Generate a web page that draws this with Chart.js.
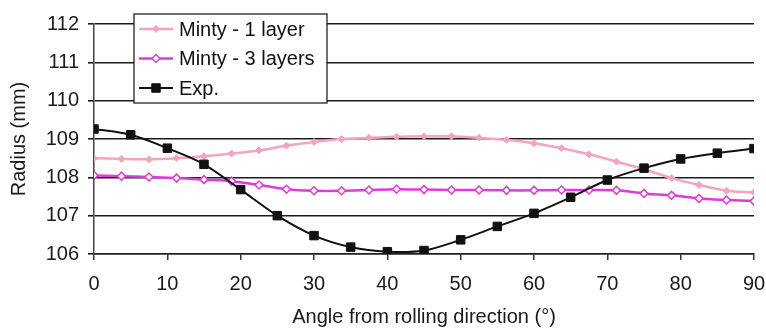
<!DOCTYPE html>
<html>
<head>
<meta charset="utf-8">
<script src="https://cdn.jsdelivr.net/npm/chart.js@4/dist/chart.umd.min.js"></script>
<style>
  html, body { margin: 0; padding: 0; background: #fff; }
  #wrap { width: 766px; height: 329px; }
</style>
</head>
<body>
<div id="wrap"><canvas id="c" width="766" height="329"></canvas></div>
<script>
// Angles (degrees from rolling direction)
const expAngles = [0, 5, 10, 15, 20, 25, 30, 35, 40, 45, 50, 55, 60, 65, 70, 75, 80, 85, 90];
const mintyAngles = [0, 3.75, 7.5, 11.25, 15, 18.75, 22.5, 26.25, 30, 33.75, 37.5, 41.25, 45,
  48.75, 52.5, 56.25, 60, 63.75, 67.5, 71.25, 75, 78.75, 82.5, 86.25, 90];

// Radius (mm)
const expRadius = [109.26, 109.11, 108.76, 108.34, 107.68, 107.0, 106.48, 106.18, 106.06, 106.09,
  106.37, 106.72, 107.06, 107.48, 107.93, 108.24, 108.48, 108.63, 108.75];
const minty1Radius = [108.50, 108.48, 108.47, 108.50, 108.55, 108.62, 108.70, 108.83, 108.92, 109.00,
  109.03, 109.06, 109.07, 109.07, 109.03, 108.98, 108.89, 108.76, 108.60, 108.41, 108.21, 107.98,
  107.80, 107.65, 107.61];
const minty3Radius = [108.05, 108.03, 108.01, 107.98, 107.94, 107.90, 107.80, 107.69, 107.65, 107.65,
  107.67, 107.69, 107.68, 107.67, 107.67, 107.66, 107.66, 107.67, 107.67, 107.66, 107.58, 107.53,
  107.45, 107.41, 107.38];

const xTicks = [0, 10, 20, 30, 40, 50, 60, 70, 80, 90];
const yTicks = [106, 107, 108, 109, 110, 111, 112];

const FONT = "'Liberation Sans', Arial, sans-serif";
const PINK = '#f4a3c2';
const MAGENTA = '#e23ad8';

const pairs = (xs, ys) => xs.map((x, i) => ({ x: x, y: ys[i] }));

// Boxed legend drawn inside the plot, upper left
const boxLegend = {
  id: 'boxLegend',
  afterDraw(chart) {
    const ctx = chart.ctx;
    const area = chart.chartArea;
    const bx = area.left + 40, by = area.top - 10, bw = 193, bh = 89;
    ctx.save();
    ctx.fillStyle = '#fff';
    ctx.fillRect(bx, by, bw, bh);
    ctx.strokeStyle = '#111';
    ctx.lineWidth = 1.2;
    ctx.strokeRect(bx, by, bw, bh);
    const order = [1, 2, 0];
    order.forEach((di, row) => {
      const ds = chart.data.datasets[di];
      const cy = by + 15 + row * 29.5;
      const x0 = bx + 5, x1 = bx + 39;
      ctx.strokeStyle = ds.borderColor;
      ctx.lineWidth = ds.borderWidth;
      ctx.beginPath();
      ctx.moveTo(x0, cy);
      ctx.lineTo(x1, cy);
      ctx.stroke();
      ctx.fillStyle = ds.pointBackgroundColor;
      ctx.strokeStyle = ds.pointBorderColor;
      ctx.lineWidth = ds.pointBorderWidth;
      ctx.beginPath();
      Chart.helpers.drawPoint(ctx, {
        pointStyle: ds.pointStyle,
        radius: ds.pointRadius,
        borderWidth: ds.pointBorderWidth,
        rotation: 0
      }, (x0 + x1) / 2, cy);
      ctx.fillStyle = '#111';
      ctx.font = '20px ' + FONT;
      ctx.textBaseline = 'middle';
      ctx.textAlign = 'left';
      ctx.fillText(ds.label, bx + 45, cy + 1);
    });
    ctx.restore();
  }
};

new Chart(document.getElementById('c'), {
  type: 'line',
  data: {
    datasets: [
      {
        label: 'Exp.',
        data: pairs(expAngles, expRadius),
        borderColor: '#111',
        borderWidth: 2,
        pointStyle: 'rect',
        pointRadius: 6,
        pointBorderWidth: 1,
        pointBackgroundColor: '#111',
        pointBorderColor: '#111',
        tension: 0.3,
        order: 0
      },
      {
        label: 'Minty - 1 layer',
        data: pairs(mintyAngles, minty1Radius),
        borderColor: PINK,
        borderWidth: 2.5,
        pointStyle: 'rectRot',
        pointRadius: 3.5,
        pointBorderWidth: 1,
        pointBackgroundColor: PINK,
        pointBorderColor: PINK,
        tension: 0.3,
        order: 2
      },
      {
        label: 'Minty - 3 layers',
        data: pairs(mintyAngles, minty3Radius),
        borderColor: MAGENTA,
        borderWidth: 2.5,
        pointStyle: 'rectRot',
        pointRadius: 4,
        pointBorderWidth: 1.5,
        pointBackgroundColor: '#fff',
        pointBorderColor: MAGENTA,
        tension: 0.3,
        order: 1
      }
    ]
  },
  options: {
    responsive: false,
    animation: false,
    events: [],
    layout: { padding: { left: 0, right: 12, top: 24, bottom: 0 } },
    plugins: {
      legend: { display: false },
      tooltip: { enabled: false }
    },
    scales: {
      x: {
        type: 'linear',
        min: 0,
        max: 90,
        afterBuildTicks(scale) { scale.ticks = xTicks.map(v => ({ value: v })); },
        afterFit(scale) {
          scale.height = 75;
          scale.paddingLeft = 0;
          scale.paddingRight = 0;
        },
        ticks: {
          color: '#1a1a1a',
          font: { family: FONT, size: 20 },
          padding: 12,
          maxRotation: 0
        },
        grid: {
          drawOnChartArea: false,
          drawTicks: true,
          tickLength: 6,
          color: '#333',
          lineWidth: 1.5
        },
        border: { display: true, color: '#222', width: 1.5 },
        title: {
          display: true,
          text: 'Angle from rolling direction (°)',
          color: '#1a1a1a',
          font: { family: FONT, size: 20 },
          padding: { top: 1, bottom: 0 }
        }
      },
      y: {
        type: 'linear',
        min: 106,
        max: 112,
        afterBuildTicks(scale) { scale.ticks = yTicks.map(v => ({ value: v })); },
        afterFit(scale) {
          scale.width = 94;
          scale.paddingTop = 0;
          scale.paddingBottom = 0;
        },
        ticks: {
          color: '#1a1a1a',
          font: { family: FONT, size: 20 },
          padding: 9
        },
        grid: {
          drawOnChartArea: true,
          drawTicks: true,
          tickLength: 6,
          color: '#1c1c1c',
          lineWidth: 1.6
        },
        border: { display: true, color: '#444', width: 1.5 },
        title: {
          display: true,
          text: 'Radius (mm)',
          color: '#1a1a1a',
          font: { family: FONT, size: 20 },
          padding: { top: 7, bottom: 0 }
        }
      }
    }
  },
  plugins: [boxLegend]
});
</script>
</body>
</html>
